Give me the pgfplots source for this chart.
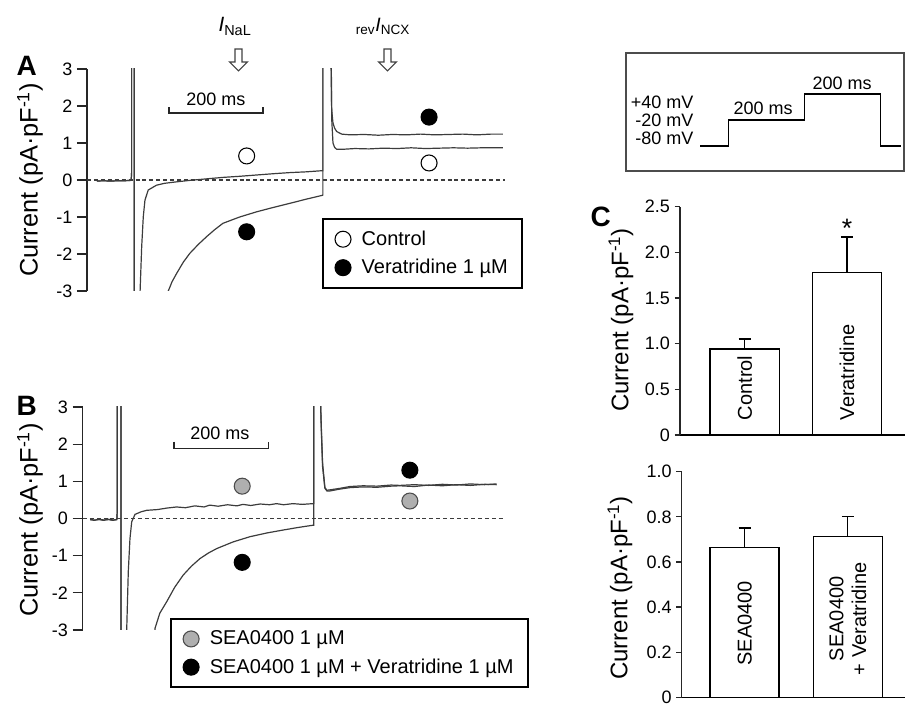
\documentclass[border=0pt]{standalone}
\usepackage{fontspec}
\setmainfont{Liberation Sans}
\usepackage{pgfplots}
\pgfplotsset{compat=1.18}
\definecolor{tracec}{RGB}{60,60,60}
\definecolor{markgray}{RGB}{175,175,175}
\begin{document}
\begin{tikzpicture}[x=0.75pt,y=0.75pt]
\useasboundingbox (0,0) rectangle (905,705);
\pgfplotsset{
  trace/.style={tracec, line width=0.9pt, forget plot},
  zeroline/.style={tracec, dash pattern=on 3pt off 2.2pt, line width=0.8pt, forget plot},
  scalebar/.style={black!85, line width=0.9pt, forget plot},
  panelAB/.style={scale only axis, anchor=south west, axis x line=none, axis y line=left,
    y axis line style={-, line width=0.9pt, black!85},
    ymin=-3, ymax=3, ytick={-3,-2,-1,0,1,2,3}, yticklabels={-3,-2,-1,0,1,2,3},
    tick align=outside, major tick length=7.5pt, tick style={black!85, line width=0.9pt},
    yticklabel style={font=\fontsize{13.5}{15}\selectfont},
    legend style={draw=black, line width=1.5pt, fill=white, anchor=north west,
      font=\fontsize{15}{17}\selectfont, inner xsep=9pt, inner ysep=7pt, row sep=5pt, column sep=6pt,
      cells={anchor=west}},
    legend cell align=left, clip=true},
  panelC/.style={scale only axis, anchor=south west, axis x line=bottom, axis y line=left,
    x axis line style={-, line width=1.1pt, black}, y axis line style={-, line width=0.9pt, black!85},
    xtick=\empty, tick align=outside, major tick length=4pt, tick style={black!85, line width=0.9pt},
    yticklabel style={font=\fontsize{13.5}{15}\selectfont}, clip=false},
  cbar/.style={ybar, fill=white, draw=black, line width=1.1pt},
  err/.style={black, line width=1pt, forget plot},
}
% ---------------- Panel A ----------------
\begin{axis}[panelAB, at={(65.25pt,310.5pt)}, width=313.65pt, height=166.5pt, xmin=0, xmax=890,
  legend style={at={(0.562,0.329)}}]
\addplot[zeroline] coordinates {(0,0)(890,0)};
\addplot[trace] coordinates {(21,-0.03)(35,-0.02)(50,-0.03)(65,-0.02)(80,-0.02)(94,-0.01)(95,0.2)(95,3.5)(100.5,3.5)(100.5,-3.5)(112.8,-3.5)(113,-3.0)(116.4,-1.8)(119.8,-0.99)(123.4,-0.54)(130.4,-0.27)(148,-0.14)(165,-0.09)(184,-0.06)(219,-0.01)(254,0.03)(289,0.07)(325,0.10)(361,0.135)(397,0.17)(432,0.2)(466,0.22)(499,0.25)(502,0.25)(502,3.5)(518.6,3.5)(519.5,3.0)(521,1.6)(523.5,1.0)(527,0.88)(531.4,0.83)(545,0.83)(570,0.85)(600,0.84)(630,0.86)(660,0.85)(690,0.87)(720,0.85)(750,0.86)(780,0.87)(810,0.86)(840,0.87)(885,0.87)};
\addplot[trace] coordinates {(21,-0.03)(35,-0.02)(50,-0.03)(65,-0.02)(80,-0.02)(94,-0.01)(95,0.2)(95,3.5)(100.5,3.5)(100.5,-3.5)(172,-3.5)(173,-3.0)(181,-2.75)(191,-2.52)(205,-2.22)(219,-1.98)(237,-1.74)(254.7,-1.53)(272,-1.34)(289.4,-1.17)(325,-1.0)(361,-0.86)(397,-0.74)(432,-0.63)(466,-0.52)(499,-0.42)(502,-0.41)(502,3.5)(518.6,3.5)(520,3.0)(520.7,1.9)(523.5,1.54)(527,1.4)(531.4,1.31)(542,1.24)(560,1.22)(590,1.23)(620,1.21)(650,1.23)(680,1.22)(710,1.24)(740,1.22)(770,1.23)(800,1.24)(830,1.22)(860,1.24)(885,1.24)};
\addplot[scalebar] coordinates {(174.5,1.97)(174.5,1.81)(374.5,1.81)(374.5,1.97)};
\node[font=\fontsize{13.5}{15}\selectfont] at (axis cs:274.5,2.18) {200 ms};
\addplot[only marks, mark=*, mark size=6pt, mark options={fill=white, draw=black, line width=0.8pt}] coordinates {(339.8,0.65)(728,0.46)};
\addlegendentry{Control}
\addplot[only marks, mark=*, mark size=6pt, mark options={fill=black, draw=black, line width=0.8pt}] coordinates {(339.8,-1.40)(728,1.70)};
\addlegendentry{Veratridine 1 µM}
\end{axis}
% ---------------- Panel B ----------------
\begin{axis}[panelAB, at={(62.025pt,56.25pt)}, width=316.7pt, height=167.25pt, xmin=0, xmax=904,
  legend style={at={(0.207,0.054)}}]
\addplot[zeroline] coordinates {(0,0)(904,0)};
\addplot[trace] coordinates {(16,-0.03)(25,-0.05)(35,-0.02)(45,-0.04)(55,-0.03)(65,-0.05)(73,-0.03)(74,0.2)(74,3.5)(82,3.5)(82,-3.5)(94,-3.5)(94.2,-3.0)(97.6,-1.43)(101.2,-0.54)(104.9,-0.09)(111.9,0.11)(125,0.18)(137,0.22)(160,0.24)(180,0.28)(201,0.31)(220,0.29)(240,0.34)(260,0.31)(272,0.36)(290,0.33)(310,0.37)(330,0.34)(343,0.38)(360,0.35)(380,0.39)(400,0.37)(415,0.40)(430,0.37)(450,0.40)(470,0.38)(493.5,0.40)(494.5,0.40)(494.5,3.5)(508.5,3.5)(510.5,2.5)(513.5,1.4)(518.5,0.81)(523,0.74)(529,0.74)(550,0.79)(572,0.83)(600,0.85)(630,0.84)(660,0.87)(679,0.88)(710,0.86)(740,0.9)(770,0.88)(800,0.91)(830,0.89)(860,0.92)(886,0.91)};
\addplot[trace] coordinates {(16,-0.03)(25,-0.04)(35,-0.03)(45,-0.05)(55,-0.02)(65,-0.04)(73,-0.03)(74,0.2)(74,3.5)(82,3.5)(82,-3.5)(154,-3.5)(154.7,-2.96)(165,-2.55)(179.8,-2.24)(197,-1.85)(215.3,-1.52)(233,-1.28)(251,-1.08)(269,-0.93)(286.8,-0.81)(322,-0.63)(358,-0.49)(394,-0.39)(429.3,-0.31)(462,-0.24)(493.5,-0.18)(494.5,-0.18)(494.5,3.5)(508.5,3.5)(510.5,2.6)(513.5,1.5)(518.5,0.83)(523,0.76)(529,0.77)(550,0.81)(572,0.86)(600,0.88)(630,0.87)(660,0.9)(679,0.89)(710,0.91)(740,0.89)(770,0.92)(800,0.9)(830,0.93)(860,0.91)(886,0.93)};
\addplot[scalebar] coordinates {(195.4,2.07)(195.4,1.88)(397.2,1.88)(397.2,2.07)};
\node[font=\fontsize{13.5}{15}\selectfont] at (axis cs:293.8,2.3) {200 ms};
\addplot[only marks, mark=*, mark size=6pt, mark options={fill=markgray, draw=black!70, line width=0.8pt}] coordinates {(341.5,0.87)(700.4,0.47)};
\addlegendentry{SEA0400 1 µM}
\addplot[only marks, mark=*, mark size=6pt, mark options={fill=black, draw=black, line width=0.8pt}] coordinates {(341.5,-1.18)(700.4,1.30)};
\addlegendentry{SEA0400 1 µM + Veratridine 1 µM}
\end{axis}
% ---------------- Panel C top ----------------
\begin{axis}[panelC, at={(510pt,202.5pt)}, width=168.75pt, height=171.2pt, xmin=0.368, xmax=2.567,
  ymin=0, ymax=2.5, ytick={0,0.5,1,1.5,2,2.5}, yticklabels={0,0.5,1.0,1.5,2.0,2.5}, bar width=0.677]
\addplot[err] coordinates {(1,0.94)(1,1.05)};
\addplot[err] coordinates {(0.941,1.05)(1.059,1.05)};
\addplot[err] coordinates {(2,1.78)(2,2.17)};
\addplot[err] coordinates {(1.941,2.17)(2.059,2.17)};
\addplot[cbar] coordinates {(1,0.94) (2,1.78)};
\node[rotate=90, anchor=west, font=\fontsize{15}{17}\selectfont] at (axis cs:1,0.11) {Control};
\node[rotate=90, anchor=west, font=\fontsize{15}{17}\selectfont] at (axis cs:2,0.11) {Veratridine};
\node[anchor=base, font=\fontsize{20}{22}\selectfont] at (axis cs:2,2.16) {*};
\end{axis}
% ---------------- Panel C bottom ----------------
\begin{axis}[panelC, at={(511.275pt,5.775pt)}, width=167.5pt, height=169.2pt, xmin=0.389, xmax=2.555,
  ymin=0, ymax=1, ytick={0,0.2,0.4,0.6,0.8,1}, yticklabels={0,0.2,0.4,0.6,0.8,1.0}, bar width=0.669]
\addplot[err] coordinates {(1,0.665)(1,0.75)};
\addplot[err] coordinates {(0.942,0.75)(1.058,0.75)};
\addplot[err] coordinates {(2,0.712)(2,0.80)};
\addplot[err] coordinates {(1.942,0.80)(2.058,0.80)};
\addplot[cbar] coordinates {(1,0.665) (2,0.712)};
\node[rotate=90, anchor=west, font=\fontsize{15}{17}\selectfont] at (axis cs:1,0.12) {SEA0400};
\node[rotate=90, anchor=west, align=center, font=\fontsize{15}{17}\selectfont] at (axis cs:2,0.077) {SEA0400\\+ Veratridine};
\end{axis}
% ---------------- Protocol inset ----------------
\draw[black!70, line width=0.8pt] (626,705-53) rectangle (904,705-171);
\begin{axis}[at={(525pt,419.25pt)}, anchor=south west, scale only axis, width=151pt, height=39pt,
  hide axis, xmin=0, xmax=530, ymin=-80, ymax=40, clip=false]
\addplot[black, line width=1.1pt] coordinates {(0,-80)(75,-80)(75,-20)(275,-20)(275,40)(475,40)(475,-80)(530,-80)};
\end{axis}
\node[anchor=east, font=\fontsize{13.5}{15}\selectfont] at (698,705-102) {+40 mV};
\node[anchor=east, font=\fontsize{13.5}{15}\selectfont] at (698,705-120) {-20 mV};
\node[anchor=east, font=\fontsize{13.5}{15}\selectfont] at (698,705-138) {-80 mV};
\node[font=\fontsize{13.5}{15}\selectfont] at (763,705-108) {200 ms};
\node[font=\fontsize{13.5}{15}\selectfont] at (842,705-83) {200 ms};
% ---------------- Labels ----------------
\node[rotate=90, font=\fontsize{19}{22}\selectfont] at (30,705-180) {Current (pA·pF\textsuperscript{-1})};
\node[rotate=90, font=\fontsize{19}{22}\selectfont] at (30,705-520) {Current (pA·pF\textsuperscript{-1})};
\node[rotate=90, font=\fontsize{18}{21}\selectfont] at (621,705-320) {Current (pA·pF\textsuperscript{-1})};
\node[rotate=90, font=\fontsize{18}{21}\selectfont] at (620,705-588) {Current (pA·pF\textsuperscript{-1})};
\node[anchor=base west, font=\bfseries\fontsize{21}{24}\selectfont] at (12,705-76) {A};
\node[anchor=base west, font=\bfseries\fontsize{21}{24}\selectfont] at (12,705-416) {B};
\node[anchor=base west, font=\bfseries\fontsize{21}{24}\selectfont] at (586,705-227) {C};
\node[anchor=base, font=\fontsize{15.5}{18}\selectfont] at (235,705-32) {\textit{I}\textsubscript{NaL}};
\node[anchor=base, font=\fontsize{14.5}{17}\selectfont] at (383,705-32) {\textsubscript{rev}\textit{I}\textsubscript{NCX}};
\draw[black!75, line width=0.8pt] (235,705-49) -- (242,705-49) -- (242,705-62) -- (247.5,705-62) -- (238.5,705-71) -- (229.5,705-62) -- (235,705-62) -- cycle;
\draw[black!75, line width=0.8pt] (384,705-49) -- (391,705-49) -- (391,705-62) -- (396.5,705-62) -- (387.5,705-71) -- (378.5,705-62) -- (384,705-62) -- cycle;
\end{tikzpicture}
\end{document}
